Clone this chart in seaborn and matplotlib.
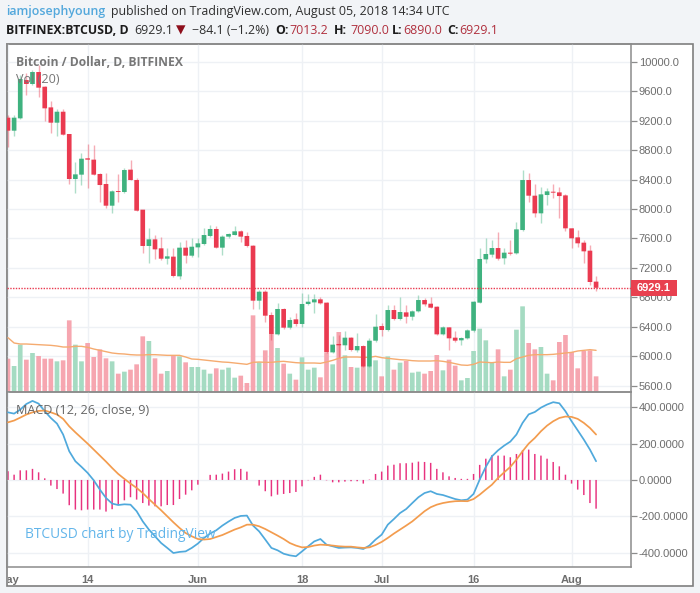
"""
BTCUSD daily candles with volume and MACD panes, TradingView look.
"""

import numpy as np
import pandas as pd
import matplotlib
matplotlib.use("Agg")
import matplotlib.pyplot as plt
from matplotlib.patches import Rectangle
import seaborn as sns

open_prices = [9243, 9066, 9234, 9755, 9701, 9864, 9664, 9383, 9175, 9324,
               9021, 8409, 8468, 8690, 8672, 8477, 8341, 8046, 8245, 8232,
               8536, 8395, 7992, 7498, 7588, 7466, 7325, 7353, 7085, 7475,
               7366, 7479, 7525, 7634, 7729, 7475, 7625, 7647, 7697, 7634,
               7502, 6754, 6876, 6559, 6296, 6641, 6387, 6500, 6437, 6709,
               6731, 6772, 6727, 6051, 6165, 6147, 6251, 6079, 6137, 5856,
               6210, 6409, 6355, 6627, 6505, 6595, 6536, 6609, 6763, 6713,
               6672, 6296, 6391, 6251, 6215, 6242, 6346, 6727, 7316, 7380,
               7470, 7330, 7407, 7398, 7715, 8395, 8182, 7942, 8191, 8236,
               8227, 8186, 7738, 7615, 7543, 7434, 7013.2]
close_prices = [9066, 9243, 9769, 9701, 9864, 9651, 9370, 9175, 9324, 9012,
                8409, 8472, 8685, 8672, 8468, 8327, 8046, 8241, 8232, 8531,
                8395, 7978, 7498, 7588, 7452, 7325, 7357, 7090, 7475, 7366,
                7488, 7534, 7647, 7729, 7475, 7625, 7661, 7697, 7625, 7498,
                6754, 6876, 6550, 6301, 6641, 6387, 6491, 6437, 6709, 6740,
                6772, 6718, 6051, 6156, 6147, 6251, 6083, 6137, 5856, 6210,
                6400, 6355, 6627, 6505, 6600, 6536, 6609, 6763, 6704, 6659,
                6296, 6391, 6242, 6210, 6246, 6350, 6740, 7321, 7389, 7470,
                7325, 7407, 7393, 7724, 8395, 8182, 7942, 8200, 8241, 8223,
                8177, 7738, 7602, 7534, 7425, 7008, 6929.1]
high_prices = [9279, 9279, 9823, 9846, 9891, 9959, 9673, 9474, 9356, 9356,
               9021, 8644, 8758, 8885, 8871, 8495, 8495, 8259, 8477, 8554,
               8667, 8418, 7992, 7738, 7647, 7624, 7466, 7466, 7556, 7579,
               7602, 7602, 7738, 7783, 7774, 7647, 7679, 7770, 7715, 7692,
               7510, 6899, 6899, 6604, 6727, 6650, 6536, 6582, 6863, 6845,
               6845, 6799, 6740, 6273, 6287, 6346, 6264, 6310, 6151, 6242,
               6573, 6446, 6695, 6695, 6808, 6695, 6627, 6831, 6786, 6808,
               6681, 6409, 6400, 6346, 6264, 6364, 6754, 7466, 7602, 7579,
               7692, 7466, 7579, 7828, 8531, 8495, 8341, 8304, 8282, 8341,
               8304, 8200, 7747, 7715, 7579, 7511, 7090]
low_prices = [8839, 8993, 9220, 9551, 9687, 9528, 9202, 9039, 8993, 9003,
              8341, 8214, 8327, 8282, 8463, 8100, 8010, 7942, 8100, 8223,
              8395, 7978, 7407, 7262, 7316, 7307, 7253, 7081, 7044, 7262,
              7353, 7353, 7507, 7625, 7466, 7375, 7611, 7647, 7556, 7488,
              6636, 6636, 6468, 6219, 6287, 6364, 6364, 6409, 6391, 6695,
              6582, 6709, 6038, 6038, 5983, 6083, 6069, 6060, 5847, 5847,
              6196, 6278, 6346, 6491, 6491, 6446, 6491, 6595, 6686, 6650,
              6287, 6287, 6083, 6196, 6151, 6228, 6332, 6718, 7262, 7352,
              7307, 7253, 7375, 7389, 7701, 8100, 7896, 7815, 8055, 8146,
              7874, 7706, 7466, 7479, 7262, 6967, 6890]

# volume has no axis in the picture, so these are in arbitrary units
volume = [100, 78, 142, 97, 117, 108, 100, 100, 92, 95,
          215, 142, 92, 147, 105, 128, 101, 92, 55, 61,
          67, 83, 167, 153, 101, 55, 63, 109, 107, 89,
          75, 75, 67, 55, 71, 67, 73, 43, 49, 27,
          230, 89, 125, 175, 132, 85, 55, 37, 104, 67,
          73, 44, 117, 83, 180, 110, 75, 73, 75, 75,
          95, 47, 107, 67, 88, 93, 58, 61, 55, 63,
          111, 65, 97, 79, 35, 42, 123, 190, 155, 87,
          128, 47, 67, 187, 257, 147, 128, 135, 55, 35,
          150, 171, 120, 71, 123, 125, 47]
volume_ma = [163, 147, 144, 144, 143, 142, 141, 140, 138, 135,
             135, 137, 137, 134, 129, 125, 121, 117, 115, 114,
             112, 111, 111, 112, 112, 111, 110, 110, 110, 105,
             99, 98, 96, 94, 92, 90, 89, 87, 85, 83,
             89, 90, 89, 89, 91, 92, 90, 88, 87, 87,
             87, 86, 90, 95, 101, 105, 105, 105, 104, 104,
             107, 103, 101, 99, 97, 96, 94, 93, 93, 93,
             94, 92, 89, 85, 81, 80, 83, 90, 89, 88,
             90, 89, 89, 100, 105, 110, 112, 112, 112, 113,
             115, 117, 119, 123, 125, 127, 125]

macd_line = [372, 365, 387, 418, 435, 420, 378, 341, 310, 250,
             158, 103, 72, 39, -2, -53, -99, -130, -138, -134,
             -136, -172, -228, -273, -310, -347, -374, -402, -396, -393,
             -374, -350, -319, -295, -277, -251, -229, -209, -198, -196,
             -251, -283, -328, -374, -387, -406, -415, -420, -393, -365,
             -338, -325, -356, -365, -374, -372, -371, -374, -380, -361,
             -328, -301, -246, -215, -182, -160, -127, -95, -72, -62,
             -77, -83, -94, -105, -112, -108, -77, 2, 72, 130,
             163, 189, 211, 250, 314, 361, 374, 398, 415, 428,
             422, 378, 323, 273, 222, 167, 103]
signal_line = [317, 327, 343, 360, 372, 380, 382, 372, 360, 336,
               295, 262, 231, 200, 167, 134, 101, 66, 33, 6,
               -20, -44, -72, -105, -136, -167, -200, -233, -264, -292,
               -310, -325, -328, -325, -314, -303, -288, -273, -261, -246,
               -246, -255, -270, -288, -306, -325, -347, -361, -371, -369,
               -361, -356, -358, -361, -365, -367, -367, -371, -374, -371,
               -358, -341, -319, -295, -273, -251, -228, -200, -172, -150,
               -136, -127, -121, -117, -116, -117, -105, -81, -53, -26,
               11, 42, 72, 112, 158, 200, 231, 268, 299, 323,
               341, 349, 347, 336, 314, 286, 250]
macd_hist = [48, 29, 53, 53, 61, 42, 9, -31, -50, -75,
             -139, -163, -167, -163, -163, -163, -174, -161, -136, -112,
             -95, -108, -127, -141, -145, -145, -138, -138, -105, -81,
             -57, -26, 0, 28, 29, 35, 46, 59, 61, 46,
             0, -31, -62, -90, -81, -77, -72, -66, -35, -2,
             17, 29, -2, -13, -13, -9, -7, -7, -20, 2,
             33, 46, 79, 84, 92, 92, 95, 101, 99, 94,
             61, 42, 20, 11, 6, 6, 33, 83, 117, 136,
             134, 134, 125, 143, 163, 167, 143, 134, 117, 99,
             75, 29, -20, -53, -83, -127, -158]

price_ticks = [5600, 6000, 6400, 6800, 7200, 7600, 8000, 8400, 8800, 9200, 9600, 10000]
macd_ticks = [-400, -200, 0, 200, 400]
date_ticks = [0, 13, 31, 48, 61, 76, 92]
date_labels = ["May", "14", "Jun", "18", "Jul", "16", "Aug"]
last_close = 6929.1

W, H = 700, 593
UP = "#3fb27f"
DOWN = "#ea3a50"
UP_VOL = "#a5dbc2"
DOWN_VOL = "#f6a6b0"
GRID = "#eef1f5"
AXIS = "#8c8c8c"
LABEL = "#6e6e6e"
ORANGE = "#f39c4e"
BLUE = "#4fa9dc"
BG = "#f2f4f7"

PRICE_MIN, PRICE_MAX = 5512, 10245
VOL_TO_PRICE = 4.533  # keeps the volume bars at the bottom of the price pane
X_MIN, X_MAX = -0.16, 101.7
HEAD_SIZE = 8.95


def fx(x):
    return x / W


def fy(y):
    return 1 - y / H


def head(x, y, s, color="#2f2f2f", weight="normal"):
    fig.text(fx(x), fy(y), s, color=color, fontweight=weight, fontsize=HEAD_SIZE,
             va="center", ha="left", family=["Open Sans", "DejaVu Sans"])


def caption(ax, x, y, height, s, color, size, weight="normal"):
    # x, y in pixels from the pane's left and top edge
    ax.text(x / 624, 1 - y / height, s, transform=ax.transAxes, color=color,
            fontsize=size, fontweight=weight, family="Open Sans", va="center", zorder=6)


def draw_candles(ax, df):
    df = df.copy()
    df["top"] = df[["open", "close"]].max(axis=1)
    df["bottom"] = df[["open", "close"]].min(axis=1)
    df["body"] = df["top"] - df["bottom"]
    for rising, color in [(True, UP), (False, DOWN)]:
        part = df[(df["close"] >= df["open"]) == rising]
        ax.vlines(part["day"], part["low"], part["high"], color=color,
                  linewidth=1.0, alpha=0.42, zorder=3)
        sns.barplot(data=part, x="day", y="body", bottom=part["bottom"].values,
                    native_scale=True, color=color, saturation=1, width=0.76,
                    errorbar=None, linewidth=0, zorder=4, ax=ax)


def draw_volume(ax, df):
    for rising, color in [(True, UP_VOL), (False, DOWN_VOL)]:
        part = df[(df["close"] >= df["open"]) == rising]
        sns.barplot(x=part["day"], y=part["volume"].values * VOL_TO_PRICE,
                    bottom=PRICE_MIN, native_scale=True, color=color,
                    saturation=1, width=0.76, errorbar=None, linewidth=0,
                    zorder=2, ax=ax)
    sns.lineplot(x=df["day"], y=df["volume_ma"] * VOL_TO_PRICE + PRICE_MIN,
                 color="#f5ab70", linewidth=1.0, zorder=3, ax=ax)


sns.set_theme(style="white")
plt.rcParams["font.family"] = ["Liberation Sans", "DejaVu Sans"]

prices = pd.DataFrame({
    "day": np.arange(len(close_prices)),
    "open": open_prices,
    "high": high_prices,
    "low": low_prices,
    "close": close_prices,
    "volume": volume,
    "volume_ma": volume_ma,
    "macd": macd_line,
    "signal": signal_line,
    "hist": macd_hist,
})

fig = plt.figure(figsize=(W / 100, H / 100), dpi=100, facecolor=BG)

# white chart card with its grey border
fig.add_artist(Rectangle((fx(7), fy(586)), fx(686), 542 / H, transform=fig.transFigure,
                         facecolor="white", edgecolor="#7f7f7f", linewidth=1.2, zorder=-1))

ax_price = fig.add_axes([fx(7), fy(392), fx(624), 348 / H], facecolor="none")
ax_macd = fig.add_axes([fx(7), fy(567), fx(624), 175 / H], facecolor="none")

draw_volume(ax_price, prices)
draw_candles(ax_price, prices)
ax_price.axhline(last_close, color=DOWN, linewidth=1.0, linestyle=(0, (1, 1)), zorder=5)

sns.barplot(data=prices, x="day", y="hist", native_scale=True, color="#e8327f",
            saturation=1, width=0.24, errorbar=None, linewidth=0, zorder=2, ax=ax_macd)
sns.lineplot(data=prices, x="day", y="macd", color=BLUE, linewidth=1.25, zorder=3, ax=ax_macd)
sns.lineplot(data=prices, x="day", y="signal", color=ORANGE, linewidth=1.25, zorder=4, ax=ax_macd)

# pixel snapping makes the narrow bars uneven, some 1px and some 2px wide
for ax in (ax_price, ax_macd):
    for bar in ax.patches:
        bar.set_snap(False)

ax_price.set_ylim(PRICE_MIN, PRICE_MAX)
ax_macd.set_ylim(-479, 484)

for ax, ticks in [(ax_price, price_ticks), (ax_macd, macd_ticks)]:
    ax.set_xlim(X_MIN, X_MAX)
    ax.set_xticks(date_ticks)
    ax.set_yticks(ticks)
    ax.set_xlabel("")
    ax.set_ylabel("")
    ax.yaxis.tick_right()
    ax.grid(True, color=GRID, linewidth=1.0, zorder=0)
    ax.set_axisbelow(True)
    ax.tick_params(axis="y", length=4, width=0.9, color=AXIS, labelcolor=LABEL,
                   labelsize=8, pad=1.5, direction="out", right=True)
    for side in ax.spines.values():
        side.set_color(AXIS)
        side.set_linewidth(1.1)

ax_price.set_yticklabels([f"{v:.1f}" for v in price_ticks])
ax_macd.set_yticklabels([f"{v:.4f}" for v in macd_ticks])
ax_price.tick_params(axis="x", length=0, labelbottom=False)
ax_macd.set_xticklabels(date_labels, fontweight="bold")
ax_macd.tick_params(axis="x", length=3, width=0.9, color=AXIS, labelcolor=LABEL,
                    labelsize=8, pad=2.5)

# the first date label runs off the left edge of the chart card
clip = Rectangle((fx(8), 0), fx(690), 1, transform=fig.transFigure)
ax_macd.get_xticklabels()[0].set_clip_path(clip)

# pane captions
caption(ax_price, 9, 18, 348, "Bitcoin / Dollar, D, BITFINEX", "#777777", 8.7, "bold")
caption(ax_price, 9, 35.5, 348, "Vol (20)", "#777777", 9.1)
caption(ax_macd, 9, 18, 175, "MACD (12, 26, close, 9)", "#666666", 9.1)
caption(ax_macd, 18, 143, 175, "BTCUSD chart by TradingView", "#62b5ea", 9.9)

# last price flag on the axis
fig.add_artist(Rectangle((fx(631), fy(296)), fx(46), 16 / H, transform=fig.transFigure,
                         facecolor="#e8404f", edgecolor="none", zorder=10))
fig.text(fx(654), fy(288.3), f"{last_close:.1f}", color="white", fontsize=8,
         fontweight="bold", ha="center", va="center", zorder=11)

# header lines
head(6, 12, "iamjosephyoung", color="#53a8dc", weight="semibold")
head(111, 12, "published on TradingView.com, August 05, 2018 14:34 UTC")
head(6, 30, "BITFINEX:BTCUSD, D", color="#1c1c1c", weight="bold")
head(134, 30, "6929.1")
head(176, 30, "▼", color="#8e0f1c")
head(192, 30, "−84.1 (−1.2%)")
head(275, 30, "O:", color="#1c1c1c", weight="bold")
head(289, 30, "7013.2", color="#b0303e")
head(334, 30, "H:", color="#1c1c1c", weight="bold")
head(350, 30, "7090.0", color="#b0303e")
head(392, 30, "L:", color="#1c1c1c", weight="bold")
head(403, 30, "6890.0", color="#b0303e")
head(447, 30, "C:", color="#1c1c1c", weight="bold")
head(459, 30, "6929.1", color="#b0303e")

fig.savefig("out.png", dpi=100, facecolor=BG)
